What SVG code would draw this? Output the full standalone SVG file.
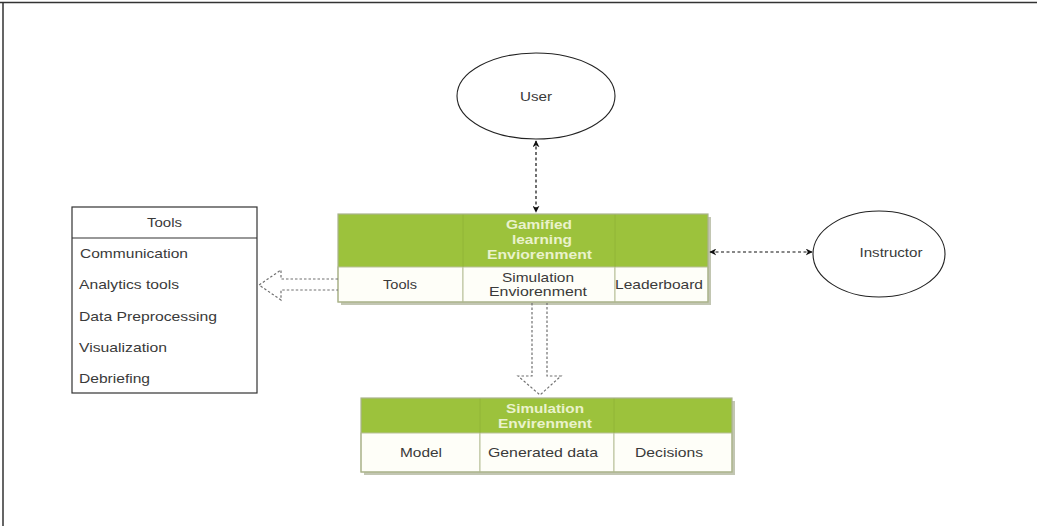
<svg xmlns="http://www.w3.org/2000/svg" width="1037" height="526" viewBox="0 0 1037 526">
<style>
text{font-family:"Liberation Sans",Arial,sans-serif;font-size:13px;fill:#3a3a3a}
.hd{font-weight:bold;fill:#eaf2cc}
.mid{text-anchor:middle}
.shadow{fill:#c2c6b2}
.green{fill:#9cc23c}
.cell{fill:#fefef8;stroke:#b7bf98;stroke-width:1}
.frame{fill:none;stroke:#aab38c;stroke-width:1.2}
.ell{fill:#fff;stroke:#222;stroke-width:1.1}
.dash{stroke:#111;stroke-width:1.2;stroke-dasharray:3 2.5;fill:none}
.hollow{stroke:#707070;stroke-width:1.2;stroke-dasharray:2.5 2;fill:none}
</style>
<defs>
<marker id="ah" viewBox="0 0 10 10" refX="9" refY="5" markerWidth="7" markerHeight="7" orient="auto-start-reverse" markerUnits="userSpaceOnUse">
<path d="M0,0 L10,5 L0,10 L3,5 Z" fill="#111"/>
</marker>
</defs>
<rect x="0" y="0" width="1037" height="526" fill="#fff"/>
<path d="M0,2.5 H1037 M3,2.5 V526" stroke="#333" stroke-width="1.5" fill="none"/>

<g id="user">
<ellipse class="ell" cx="536" cy="96" rx="79" ry="43"/>
<text class="mid" x="536" y="101" textLength="32" lengthAdjust="spacingAndGlyphs">User</text>
</g>

<g id="instructor">
<ellipse class="ell" cx="879" cy="254" rx="66" ry="43"/>
<text class="mid" x="891" y="257" textLength="63" lengthAdjust="spacingAndGlyphs">Instructor</text>
</g>

<g id="tools">
<rect x="72" y="207" width="185" height="186" fill="#fff" stroke="#333" stroke-width="1.2"/>
<line x1="72" y1="238" x2="257" y2="238" stroke="#333" stroke-width="1.2"/>
<text class="mid" x="164.5" y="227" textLength="35" lengthAdjust="spacingAndGlyphs">Tools</text>
<text x="80" y="258" textLength="108" lengthAdjust="spacingAndGlyphs">Communication</text>
<text x="79" y="289" textLength="100" lengthAdjust="spacingAndGlyphs">Analytics tools</text>
<text x="79" y="321" textLength="138" lengthAdjust="spacingAndGlyphs">Data Preprocessing</text>
<text x="79" y="352" textLength="88" lengthAdjust="spacingAndGlyphs">Visualization</text>
<text x="79" y="383" textLength="71" lengthAdjust="spacingAndGlyphs">Debriefing</text>
</g>

<g id="gamified">
<rect class="shadow" x="341" y="217" width="370" height="88"/>
<rect class="green" x="338" y="214" width="370" height="53"/>
<rect class="cell" x="338" y="267" width="125" height="35"/>
<rect class="cell" x="463" y="267" width="152" height="35"/>
<rect class="cell" x="615" y="267" width="93" height="35"/>
<line x1="463" y1="214" x2="463" y2="267" stroke="#8fb236" stroke-width="0.8"/>
<line x1="615" y1="214" x2="615" y2="267" stroke="#8fb236" stroke-width="0.8"/>
<rect class="frame" x="338" y="214" width="370" height="88"/>
<text class="hd mid" x="539" y="229" textLength="66" lengthAdjust="spacingAndGlyphs">Gamified</text>
<text class="hd mid" x="542" y="244" textLength="60" lengthAdjust="spacingAndGlyphs">learning</text>
<text class="hd mid" x="539.5" y="259" textLength="105" lengthAdjust="spacingAndGlyphs">Enviorenment</text>
<text class="mid" x="400" y="289" textLength="34" lengthAdjust="spacingAndGlyphs">Tools</text>
<text class="mid" x="538" y="282" textLength="72" lengthAdjust="spacingAndGlyphs">Simulation</text>
<text class="mid" x="538" y="296" textLength="98" lengthAdjust="spacingAndGlyphs">Enviorenment</text>
<text class="mid" x="659" y="289" textLength="88" lengthAdjust="spacingAndGlyphs">Leaderboard</text>
</g>

<g id="simulation">
<rect class="shadow" x="364" y="401" width="371" height="74"/>
<rect class="green" x="361" y="398" width="371" height="35"/>
<rect class="cell" x="361" y="433" width="119" height="39"/>
<rect class="cell" x="480" y="433" width="134" height="39"/>
<rect class="cell" x="614" y="433" width="118" height="39"/>
<line x1="480" y1="398" x2="480" y2="433" stroke="#8fb236" stroke-width="0.8"/>
<line x1="614" y1="398" x2="614" y2="433" stroke="#8fb236" stroke-width="0.8"/>
<rect class="frame" x="361" y="398" width="371" height="74"/>
<text class="hd mid" x="545" y="413" textLength="78" lengthAdjust="spacingAndGlyphs">Simulation</text>
<text class="hd mid" x="545" y="428" textLength="94" lengthAdjust="spacingAndGlyphs">Envirenment</text>
<text class="mid" x="421" y="457" textLength="42" lengthAdjust="spacingAndGlyphs">Model</text>
<text class="mid" x="543" y="457" textLength="110" lengthAdjust="spacingAndGlyphs">Generated data</text>
<text class="mid" x="669" y="457" textLength="68" lengthAdjust="spacingAndGlyphs">Decisions</text>
</g>

<g id="connectors">
<line class="dash" x1="536" y1="141" x2="536" y2="212" marker-start="url(#ah)" marker-end="url(#ah)"/>
<line class="dash" x1="710" y1="252" x2="812" y2="252" marker-start="url(#ah)" marker-end="url(#ah)"/>
<path class="hollow" d="M338,279 H281 V270 L259,285 L281,300 V290 H338"/>
<path class="hollow" d="M532,303 V376 H518 L540,395 L561,376 H547 V303"/>
</g>
</svg>
